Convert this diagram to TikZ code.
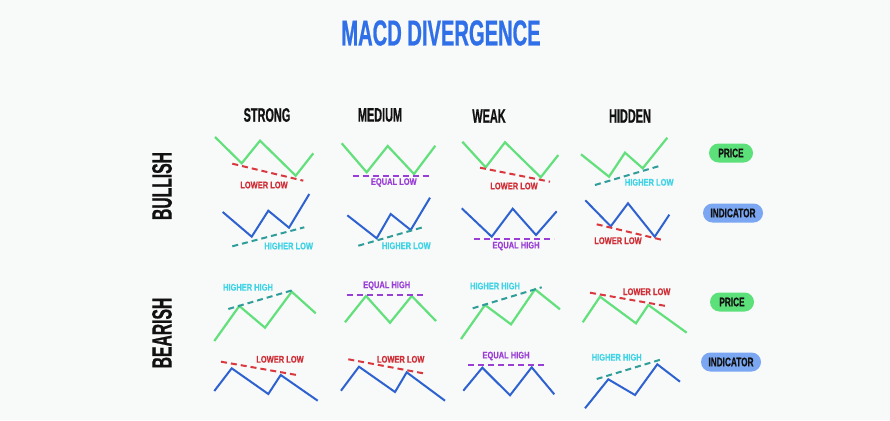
\documentclass[tikz,border=0pt]{standalone}
\usepackage{fontspec}
\newfontfamily\headfont[FakeStretch=0.56,FakeBold=0.6]{Liberation Sans}
\newfontfamily\pillfont[FakeStretch=0.66,FakeBold=0.6]{Liberation Sans}
\newfontfamily\labfont[FakeStretch=0.78,FakeBold=0.5]{Liberation Sans}
\definecolor{bg}{HTML}{F8F9F9}
\definecolor{pgreen}{HTML}{62E07C}
\definecolor{iblue}{HTML}{2E62D0}
\definecolor{rdash}{HTML}{D9383E}
\definecolor{rtext}{HTML}{CF2E36}
\definecolor{tdash}{HTML}{2F9E9A}
\definecolor{ctext}{HTML}{3FD3E6}
\definecolor{purp}{HTML}{9A3FD6}
\definecolor{pillg}{HTML}{5CE07A}
\definecolor{pillb}{HTML}{7AA6F2}
\definecolor{titleblue}{HTML}{2F6FE8}
\definecolor{ink}{HTML}{111111}
\tikzset{
  priceline/.style={draw=pgreen, line width=2.2pt},
  indline/.style={draw=iblue, line width=2pt},
  reddash/.style={draw=rdash, line width=2pt, dash pattern=on 6pt off 4pt},
  tealdash/.style={draw=tdash, line width=2pt, dash pattern=on 6pt off 4pt},
  purpdash/.style={draw=purp, line width=2pt, dash pattern=on 6pt off 4pt},
  lab/.style={inner sep=0pt, font=\labfont\bfseries\fontsize{9.6}{10}\selectfont},
  redlab/.style={lab, text=rtext},
  cyanlab/.style={lab, text=ctext},
  purplab/.style={lab, text=purp},
  head/.style={inner sep=0pt, text=ink, font=\headfont\bfseries\fontsize{19.5}{20}\selectfont},
  rowhead/.style={inner sep=0pt, text=ink, rotate=90, font=\headfont\bfseries\fontsize{28}{28}\selectfont},
  pill/.style={rounded corners=9.5pt, minimum height=19pt, inner sep=0pt, text=ink, font=\pillfont\bfseries\fontsize{12.5}{13}\selectfont},
}
\begin{document}
\begin{tikzpicture}[x=1pt,y=-1pt]
\useasboundingbox[fill=bg] (0,0) rectangle (890,420);
% title
\node[inner sep=0pt, text=titleblue, font=\headfont\bfseries\fontsize{36}{36}\selectfont] (title) at (441,33) {MACD DIVERGENCE};
% column headers
\node[head] (hstrong) at (267,115) {STRONG};
\node[head] (hmedium) at (380,115) {MEDIUM};
\node[head] (hweak) at (489,116) {WEAK};
\node[head] (hhidden) at (630,116) {HIDDEN};
% row headers
\node[rowhead] (rbull) at (162,186) {BULLISH};
\node[rowhead] (rbear) at (162,333) {BEARISH};
% pills
\node[pill, fill=pillg, minimum width=44pt] (p1) at (731,153) {PRICE};
\node[pill, fill=pillb, minimum width=60pt] (i1) at (733,213) {INDICATOR};
\node[pill, fill=pillg, minimum width=44pt] (p2) at (732,302) {PRICE};
\node[pill, fill=pillb, minimum width=60pt] (i2) at (731,362) {INDICATOR};

% ===== BULLISH =====
% strong
\draw[priceline] (215,137) -- (241.7,163.3) -- (260,140.7) -- (295.7,175.7) -- (313.3,153.3);
\draw[reddash] (232.3,163.7) -- (303.3,180.7);
\node[redlab] (l1) at (264,185) {LOWER LOW};
\draw[indline] (222.7,212) -- (251.7,236.7) -- (268.3,210.7) -- (289,227.7) -- (309.3,194);
\draw[tealdash] (232.3,246.3) -- (304.3,227.3);
\node[cyanlab] (l2) at (288.7,246) {HIGHER LOW};
% medium
\draw[priceline] (341.7,143.3) -- (366.7,172.3) -- (387.7,146) -- (414,174) -- (435.3,145.7);
\draw[purpdash] (352.7,176) -- (429.3,176);
\node[purplab] (l3) at (393.8,182.5) {EQUAL LOW};
\draw[indline] (347.3,215.3) -- (376.7,238.3) -- (390.7,214) -- (410.7,230) -- (430,197.7);
\draw[tealdash] (358.3,245.7) -- (422.7,227.3);
\node[cyanlab] (l4) at (406.3,245.7) {HIGHER LOW};
% weak
\draw[priceline] (462.3,141.7) -- (485.7,167.3) -- (505,142.3) -- (540.7,177.3) -- (558.3,155);
\draw[reddash] (480,167.7) -- (550,181.7);
\node[redlab] (l5) at (514,186) {LOWER LOW};
\draw[indline] (461.7,208.3) -- (491.7,236.7) -- (512.7,208.7) -- (536,235) -- (556.7,211.3);
\draw[purpdash] (474,239) -- (554,239);
\node[purplab] (l6) at (516,246) {EQUAL HIGH};
% hidden
\draw[priceline] (581,154.3) -- (609,176.7) -- (625,152.7) -- (642.7,168.3) -- (667.3,137.7);
\draw[tealdash] (595,185) -- (659.3,166);
\node[cyanlab] (l7) at (649.2,182.3) {HIGHER LOW};
\draw[indline] (585.3,200.3) -- (610.7,226.3) -- (628,203.3) -- (654.7,236.7) -- (669.3,214.7);
\draw[reddash] (596.7,224.3) -- (662.7,240);
\node[redlab] (l8) at (618,240.7) {LOWER LOW};

% ===== BEARISH =====
% strong
\draw[priceline] (214.3,341) -- (239.3,306) -- (265,327.7) -- (291.7,291.7) -- (315.7,313.3);
\draw[tealdash] (228.3,309) -- (293.3,290);
\node[cyanlab] (l9) at (248,287.3) {HIGHER HIGH};
\draw[indline] (214.3,391) -- (231.7,368.3) -- (268.3,394) -- (280.7,375) -- (317.7,400.7);
\draw[reddash] (221,361.7) -- (296.7,375);
\node[redlab] (l10) at (280,359.3) {LOWER LOW};
% medium
\draw[priceline] (345,322.3) -- (366,296) -- (390,322.7) -- (411.7,296) -- (436,321);
\draw[purpdash] (347.3,295) -- (425,295);
\node[purplab] (l11) at (386.7,285.7) {EQUAL HIGH};
\draw[indline] (341,390.7) -- (359,366.7) -- (395,392) -- (406.7,372.3) -- (445,400.7);
\draw[reddash] (348.3,359.3) -- (423.3,373.3);
\node[redlab] (l12) at (400.7,359.3) {LOWER LOW};
% weak
\draw[priceline] (461,339) -- (485,305) -- (511,324.3) -- (535,289.3) -- (560,309.3);
\draw[tealdash] (472.7,308.3) -- (541.7,287.3);
\node[cyanlab] (l13) at (495,286) {HIGHER HIGH};
\draw[indline] (463.3,390.7) -- (482.3,367.7) -- (510,395.3) -- (531.7,367.3) -- (554.3,394.3);
\draw[purpdash] (468.3,365.3) -- (545,365.3);
\node[purplab] (l14) at (506,356) {EQUAL HIGH};
% hidden
\draw[priceline] (582.7,322.3) -- (600,296.7) -- (636,323.3) -- (648.3,305) -- (686.7,332.7);
\draw[reddash] (590,292.7) -- (666,306);
\node[redlab] (l15) at (646.7,291.7) {LOWER LOW};
\draw[indline] (585,408.3) -- (608.3,379.3) -- (635,395) -- (657.3,364.3) -- (680,381.7);
\draw[tealdash] (596.7,379) -- (661.7,359.3);
\node[cyanlab] (l16) at (616.7,357.3) {HIGHER HIGH};
\end{tikzpicture}
\end{document}
